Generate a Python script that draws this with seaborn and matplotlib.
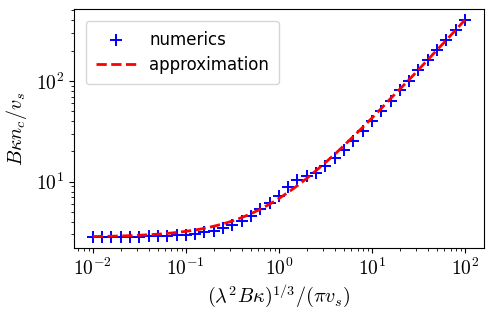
import numpy as np
import pandas as pd
import matplotlib
matplotlib.use("Agg")
import matplotlib.pyplot as plt
from matplotlib.ticker import FuncFormatter
import seaborn as sns

# --- Data ---
log_x = [-2.0, -1.9, -1.8, -1.7, -1.6, -1.5, -1.4, -1.3, -1.2, -1.1,
         -1.0, -0.9, -0.8, -0.7, -0.6, -0.5, -0.4, -0.3, -0.2, -0.1,
         0.0, 0.1, 0.2, 0.3, 0.4, 0.5, 0.6, 0.7, 0.8, 0.9,
         1.0, 1.1, 1.2, 1.3, 1.4, 1.5, 1.6, 1.7, 1.8, 1.9, 2.0]

numerics = [2.82, 2.82, 2.82, 2.83, 2.84, 2.85, 2.87, 2.89, 2.92, 2.95,
            2.98, 3.04, 3.14, 3.28, 3.46, 3.75, 4.10, 4.55, 5.40, 6.20,
            7.30, 8.80, 10.5, 11.3, 12.2, 14.2, 17.1, 20.8, 25.5, 32.0,
            40.0, 50.5, 63.5, 80.5, 101.0, 128.0, 160.0, 203.0, 256.0, 322.0, 402.0]

approximation = [2.86, 2.87, 2.88, 2.90, 2.92, 2.95, 2.98, 3.02, 3.07, 3.14,
                 3.22, 3.32, 3.45, 3.62, 3.82, 4.08, 4.41, 4.82, 5.34, 5.99,
                 6.82, 7.86, 9.16, 10.8, 12.9, 15.5, 18.7, 22.9, 28.1, 34.6,
                 42.8, 53.3, 66.9, 82.9, 103.0, 129.0, 162.0, 203.0, 254.0, 320.0, 403.0]

x_vals = [10 ** v for v in log_x]
df = pd.DataFrame({"x": x_vals, "numerics": numerics, "approximation": approximation})

# --- Plot ---
plt.rcParams["mathtext.fontset"] = "cm"
plt.rcParams["font.family"] = ["DejaVu Sans"]

fig = plt.figure(figsize=(4.98, 3.12), dpi=100)
ax = fig.add_axes([0.149, 0.205, 0.822, 0.766])

sns.scatterplot(data=df, x="x", y="numerics", marker="+", color="b",
                s=64, linewidth=1.4, label="numerics", ax=ax)
sns.lineplot(data=df, x="x", y="approximation", color="r", linestyle="--",
             linewidth=2, label="approximation", ax=ax)

ax.set_xscale("log")
ax.set_yscale("log")
pow_fmt = FuncFormatter(lambda v, pos: r"$10^{%d}$" % round(np.log10(v)))
ax.xaxis.set_major_formatter(pow_fmt)
ax.yaxis.set_major_formatter(pow_fmt)

ax.set_xlabel(r"$(\lambda^2 B\kappa)^{1/3}/(\pi v_s)$", fontsize=14.5, labelpad=3)
ax.set_ylabel(r"$B\kappa n_c/v_s$", fontsize=14.5, labelpad=5)
ax.tick_params(axis="both", which="major", labelsize=14)

ax.legend(loc="upper left", fontsize=12, handlelength=2.4, borderpad=0.6,
          labelspacing=0.45, borderaxespad=0.7)

fig.savefig("out.png", dpi=100)
